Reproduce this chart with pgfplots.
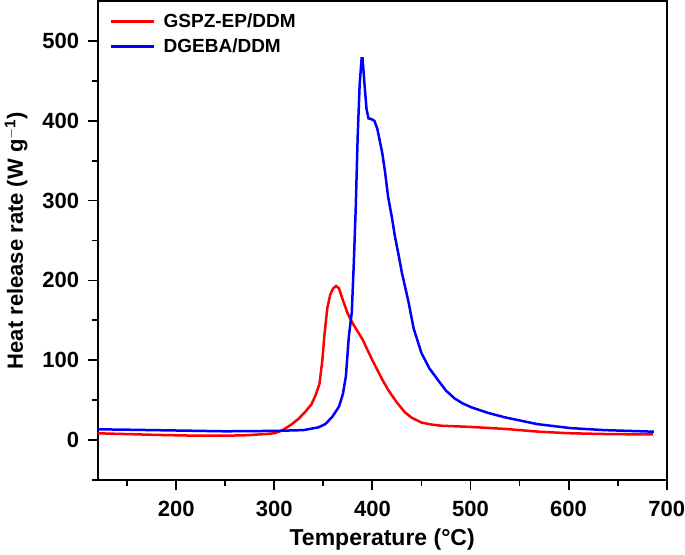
\documentclass[border=0pt]{standalone}
\usepackage{pgfplots}
\pgfplotsset{compat=1.18}
\usepackage{fontspec}
\setmainfont{Liberation Sans}
\begin{document}
\begin{tikzpicture}[x=1pt,y=1pt]
\useasboundingbox (-97.7,-74) rectangle (587.3,480);
\begin{axis}[
  scale only axis, width=569pt, height=479pt,
  xmin=120, xmax=700, ymin=-50, ymax=550,
  xtick={200,300,400,500,600,700},
  ytick={0,100,200,300,400,500},
  minor xtick={150,250,350,450,550,650},
  minor ytick={-50,50,150,250,350,450},
  tick align=outside,
  xtick pos=bottom, ytick pos=left,
  major tick length=10pt, minor tick length=6pt,
  every tick/.style={line width=1.8pt, black},
  axis line style={line width=2.2pt},
  /pgf/number format/assume math mode=true,
  ticklabel style={font=\fontsize{22}{25}\selectfont\bfseries},
  xticklabel style={yshift=-8pt},
  yticklabel style={xshift=-5pt},
  /pgf/number format/1000 sep={},
  xlabel={Temperature (°C)},
  ylabel={Heat release rate (W g$^{\mathbf{-1}}$)},
  every axis x label/.style={at={(axis description cs:0.5,0)}, yshift=-65pt, anchor=base, inner sep=0pt,
    font=\fontsize{23}{26}\selectfont\bfseries},
  every axis y label/.style={at={(axis description cs:0,0.5)}, xshift=-70pt, rotate=90, anchor=south, inner sep=0pt,
    font=\fontsize{22}{25}\selectfont\bfseries},
  legend style={draw=none, fill=none, at={(0.018,0.982)}, anchor=north west,
    font=\fontsize{19}{22}\selectfont\bfseries, row sep=6pt, inner sep=2pt,
    nodes={inner xsep=8pt}},
  legend cell align=left,
  legend image code/.code={\draw[#1, line width=2.5pt] (0pt,0pt) -- (43pt,0pt);},
]
\addplot[red, line width=2.5pt] coordinates {
(120,8.5)(150,7.5)(180,6.5)(200,6)(220,5.5)(250,5.5)(270,6)(290,7.5)(300,8.5)
(308,12)(318,20)(325,27)(332,36)(338,45)(342,56)(346,70)(349,100)(351,130)
(354,165)(357,182)(360,190)(363,193)(366,190)(370,175)(375,158)(380,146)
(385,136)(390,126)(395,113)(400,100)(405,88)(410,76)(416,63)(425,47)(433,35)
(440,28)(450,22)(460,19.5)(470,18)(500,16.5)(535,14)(570,10.5)(600,8.6)
(640,7.5)(686,7)
};
\addlegendentry{GSPZ-EP/DDM}
\addplot[blue, line width=2.5pt] coordinates {
(120,13.5)(150,13)(200,12)(250,11)(300,11.5)(330,12.5)(345,16)(352,20)(359,29)
(366,42)(370,58)(373,80)(376,130)(379,160)(381,220)(383,290)(385,380)(387,445)
(389,478)(390,478)(392,445)(394,415)(396,403)(399,402)(402,400)(405,390)
(407,378)(410,360)(413,335)(416,305)(420,278)(423,255)(427,230)(430,210)
(437,172)(442,140)(450,109)(458,90)(467,75)(475,62)(484,52)(492,46)(501,41)
(518,34)(535,28.5)(568,20)(602,15)(636,12.5)(687,10.5)
};
\addlegendentry{DGEBA/DDM}
\end{axis}
\end{tikzpicture}
\end{document}
